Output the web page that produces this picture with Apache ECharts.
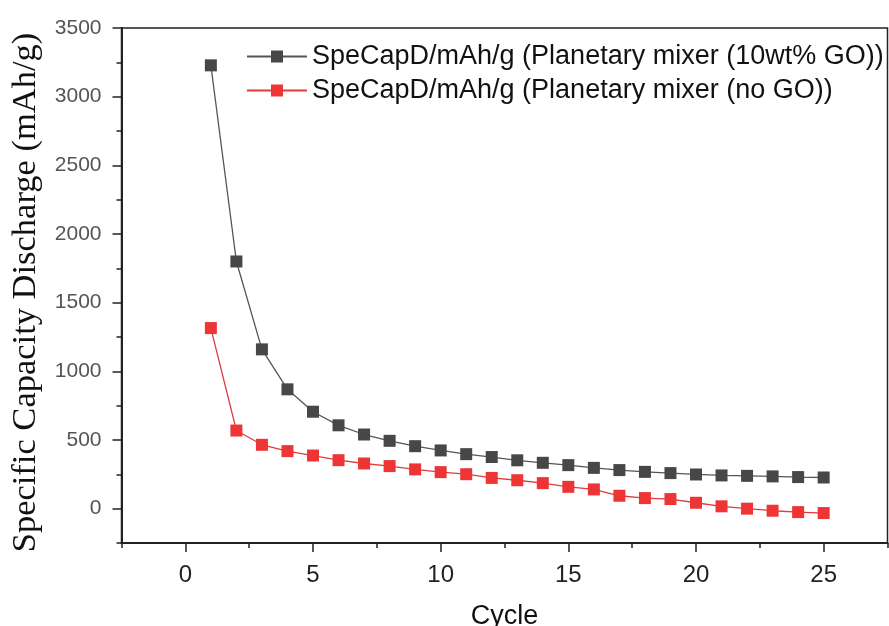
<!DOCTYPE html>
<html>
<head>
<meta charset="utf-8">
<script src="https://cdn.jsdelivr.net/npm/echarts@6/dist/echarts.min.js"></script>
<style>html,body{margin:0;padding:0;background:#fff;}#c{width:889px;height:626px;}</style>
</head>
<body>
<div id="c"></div>
<script>
const cycles = [1,2,3,4,5,6,7,8,9,10,11,12,13,14,15,16,17,18,19,20,21,22,23,24,25];
const withGO = [3228,1800,1160,869,706,607,540,494,455,424,397,376,352,334,317,297,281,268,259,249,242,239,235,230,227];
const noGO = [1315,569,465,419,387,353,329,310,286,266,251,224,207,186,159,140,94,77,70,43,17,0,-15,-25,-32];
const seriesNames = ['SpeCapD/mAh/g (Planetary mixer (10wt% GO))','SpeCapD/mAh/g (Planetary mixer (no GO))'];
const xMajor = [0,5,10,15,20,25];
const xMinor = [-2.5,2.5,7.5,12.5,17.5,22.5,27.5];
const yMajor = [0,500,1000,1500,2000,2500,3000,3500];
const yMinor = [-250,250,750,1250,1750,2250,2750,3250];

const chart = echarts.init(document.getElementById('c'), null, {renderer:'canvas'});
const axisCol = '#222';
chart.setOption({
  animation:false,
  backgroundColor:'#fff',
  grid:{left:121.5,right:1.5,top:28,bottom:83,show:true,borderColor:axisCol,borderWidth:1.5,backgroundColor:'transparent',containLabel:false,outerBoundsMode:'none'},
  legend:{
    orient:'vertical',left:246,top:43,padding:0,itemWidth:60,itemHeight:15,itemGap:7,
    textStyle:{fontFamily:'Liberation Sans, Arial, sans-serif',fontSize:27,color:'#111',lineHeight:26},
    data:seriesNames
  },
  xAxis:[{
    type:'value',min:-2.5,max:27.5,position:'bottom',
    name:'Cycle',nameLocation:'middle',nameGap:60,
    nameTextStyle:{fontFamily:'Liberation Sans, Arial, sans-serif',fontSize:27,color:'#111'},
    axisLine:{show:true,onZero:false,lineStyle:{color:axisCol,width:2}},
    axisTick:{show:true,inside:false,length:9,customValues:xMajor,lineStyle:{color:axisCol,width:1.5}},
    axisLabel:{show:true,customValues:xMajor,margin:20,fontFamily:'Liberation Sans, Arial, sans-serif',fontSize:24,color:'#222',formatter:v=>String(v)},
    splitLine:{show:false}
  },{
    type:'value',min:-2.5,max:27.5,position:'bottom',offset:0,
    axisLine:{show:false,onZero:false},
    axisTick:{show:true,inside:false,length:5,customValues:xMinor,lineStyle:{color:axisCol,width:1.5}},
    axisLabel:{show:false},
    splitLine:{show:false}
  }],
  yAxis:[{
    type:'value',min:-250,max:3500,position:'left',
    name:'Specific Capacity Discharge (mAh/g)',nameLocation:'middle',nameGap:75,
    nameTextStyle:{fontFamily:'Liberation Serif, Times New Roman, serif',fontSize:34.5,color:'#111',padding:[0,14,0,0]},
    axisLine:{show:true,onZero:false,lineStyle:{color:axisCol,width:2}},
    axisTick:{show:true,inside:false,length:9,customValues:yMajor,lineStyle:{color:axisCol,width:1.5}},
    axisLabel:{show:true,customValues:yMajor,margin:20,fontFamily:'Liberation Sans, Arial, sans-serif',fontSize:21,color:'#555',formatter:v=>String(v)},
    splitLine:{show:false}
  },{
    type:'value',min:-250,max:3500,position:'left',offset:0,
    axisLine:{show:false,onZero:false},
    axisTick:{show:true,inside:false,length:5,customValues:yMinor,lineStyle:{color:axisCol,width:1.5}},
    axisLabel:{show:false},
    splitLine:{show:false}
  }],
  series:[{
    name:seriesNames[0],type:'line',xAxisIndex:0,yAxisIndex:0,
    data:cycles.map((c,i)=>[c,withGO[i]]),
    symbol:'rect',symbolSize:12,
    itemStyle:{color:'#474747'},
    lineStyle:{color:'#555',width:1.3}
  },{
    name:seriesNames[1],type:'line',xAxisIndex:0,yAxisIndex:0,
    data:cycles.map((c,i)=>[c,noGO[i]]),
    symbol:'rect',symbolSize:12,
    itemStyle:{color:'#ee3535'},
    lineStyle:{color:'#e03a3a',width:1.3}
  }]
});
</script>
</body>
</html>
